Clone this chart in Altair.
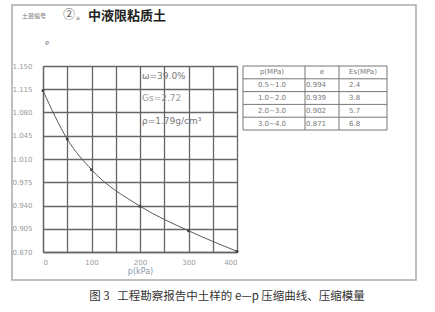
import altair as alt
import pandas as pd

# e-p compression curve of the soil sample
pressure_kpa = [0, 50, 100, 200, 300, 400]
void_ratio = [1.113, 1.040, 0.994, 0.939, 0.902, 0.871]

x_ticks = [0, 50, 100, 150, 200, 250, 300, 350, 400]
y_ticks = [0.870, 0.905, 0.940, 0.975, 1.010, 1.045, 1.080, 1.115, 1.150]

# compression modulus table
table_header = ["p(MPa)", "e", "Es(MPa)"]
table_p = ["0.5~1.0", "1.0~2.0", "2.0~3.0", "3.0~4.0"]
table_e = ["0.994", "0.939", "0.902", "0.871"]
table_es = ["2.4", "3.8", "5.7", "6.8"]

soil_props = ["ω=39.0%", "Gs=2.72", "ρ=1.79g/cm³"]

layer_code = "土层编号"
layer_no = "②"
layer_name = "中液限粘质土"
caption = "图 3\u00a0\u00a0\u00a0工程勘察报告中土样的 e—p 压缩曲线、压缩模量"

W, H = 194, 186
LEFT, TOP = 43, 66
FONT = "DejaVu Sans"
CJK = "Noto Sans CJK SC"
GRID = "#666666"

one = alt.Data(values=[{}])


def label(txt, x, y, size=8, color="#777", font=FONT, weight="normal", align="left"):
    return alt.Chart(one).mark_text(
        text=txt, font=font, fontSize=size, color=color, fontWeight=weight,
        align=align, baseline="middle",
    ).encode(x=alt.value(x), y=alt.value(y))


curve = pd.DataFrame({"p": pressure_kpa, "e": void_ratio})
base = alt.Chart(curve).encode(
    x=alt.X("p:Q", scale=alt.Scale(domain=[0, 400], nice=False, zero=False),
            axis=alt.Axis(values=x_ticks, title="p(kPa)", grid=True,
                          labelExpr="datum.value % 100 == 0 ? datum.label : ''")),
    y=alt.Y("e:Q", scale=alt.Scale(domain=[0.870, 1.150], nice=False, zero=False),
            axis=alt.Axis(values=y_ticks, format=".3f", title=None, grid=True)),
)
line = base.mark_line(interpolate="monotone", color="#5a5a5a", strokeWidth=1)
pts = base.mark_circle(size=9, color="#444", opacity=1)
main = alt.layer(line, pts)

# table body
rows = pd.DataFrame({
    "row": list(range(5)),
    "p": [table_header[0]] + table_p,
    "e": [table_header[1]] + table_e,
    "es": [table_header[2]] + table_es,
})
row_y = alt.Y("mid:Q", scale=alt.Scale(domain=[0, 5], range=[0, 64]), axis=None)
tbase = alt.Chart(rows).transform_calculate(mid="datum.row + 0.5")
txt_style = dict(font=FONT, fontSize=7, color="#777", baseline="middle")
t_p = tbase.mark_text(align="center", **txt_style).encode(
    x=alt.value(229), y=row_y, text="p:N")
t_e_head = tbase.transform_filter("datum.row == 0").mark_text(align="center", **txt_style).encode(
    x=alt.value(279), y=row_y, text="e:N")
t_e = tbase.transform_filter("datum.row > 0").mark_text(align="left", **txt_style).encode(
    x=alt.value(263), y=row_y, text="e:N")
t_es_head = tbase.transform_filter("datum.row == 0").mark_text(align="center", **txt_style).encode(
    x=alt.value(320), y=row_y, text="es:N")
t_es = tbase.transform_filter("datum.row > 0").mark_text(align="left", **txt_style).encode(
    x=alt.value(306), y=row_y, text="es:N")

edges = pd.DataFrame({"mid": list(range(6))})
h_rules = alt.Chart(edges).mark_rule(color="#777", strokeWidth=1).encode(
    y=row_y, x=alt.value(200), x2=alt.value(344))
v_rules = [
    alt.Chart(one).mark_rule(color="#777", strokeWidth=1).encode(
        x=alt.value(cx), y=alt.value(0), y2=alt.value(64))
    for cx in [200, 262, 296, 344]
]
table = alt.layer(h_rules, *v_rules, t_p, t_e_head, t_e, t_es_head, t_es)

frame = alt.Chart(one).mark_rect(fillOpacity=0, stroke="#aaa", strokeWidth=1.5).encode(
    x=alt.value(12 - LEFT), x2=alt.value(416 - LEFT),
    y=alt.value(5 - TOP), y2=alt.value(280 - TOP))

texts = [
    label(layer_code, 22 - LEFT, 16 - TOP, size=6, color="#777", font=CJK),
    label(layer_no, 63 - LEFT, 15 - TOP, size=12, color="#666", font=CJK),
    label("a", 76 - LEFT, 18 - TOP, size=6, color="#666"),
    label(layer_name, 88 - LEFT, 16 - TOP, size=13, color="#222", font=CJK, weight="bold"),
    label("e", 45 - LEFT, 43 - TOP, size=7, color="#777"),
    label(soil_props[0], 142 - LEFT, 76 - TOP, size=9),
    label(soil_props[1], 142 - LEFT, 98 - TOP, size=9, color="#999"),
    label(soil_props[2], 142 - LEFT, 121 - TOP, size=9),
    label(caption, 227 - LEFT, 297 - TOP, size=11.5, color="#333", font=CJK, align="center"),
]

chart = alt.layer(frame, main, table, *texts).resolve_scale(y="independent").properties(
    width=W, height=H,
    autosize=alt.AutoSizeParams(type="none"),
    padding={"left": LEFT, "top": TOP, "right": 435 - LEFT - W, "bottom": 312 - TOP - H},
    background="white",
).configure_view(stroke=None).configure_axis(
    gridColor=GRID, gridWidth=1.3, gridOpacity=1,
    domainColor=GRID, domainWidth=1.3, ticks=False,
    labelFont=FONT, labelFontSize=7, labelColor="#999",
    titleFont=FONT, titleFontSize=8, titleColor="#8a97aa", titleFontWeight="normal",
).configure_axisY(labelPadding=11).configure_axisX(labelPadding=6, titlePadding=2)

chart.save("out.html", embed_options={"renderer": "svg", "actions": False})
